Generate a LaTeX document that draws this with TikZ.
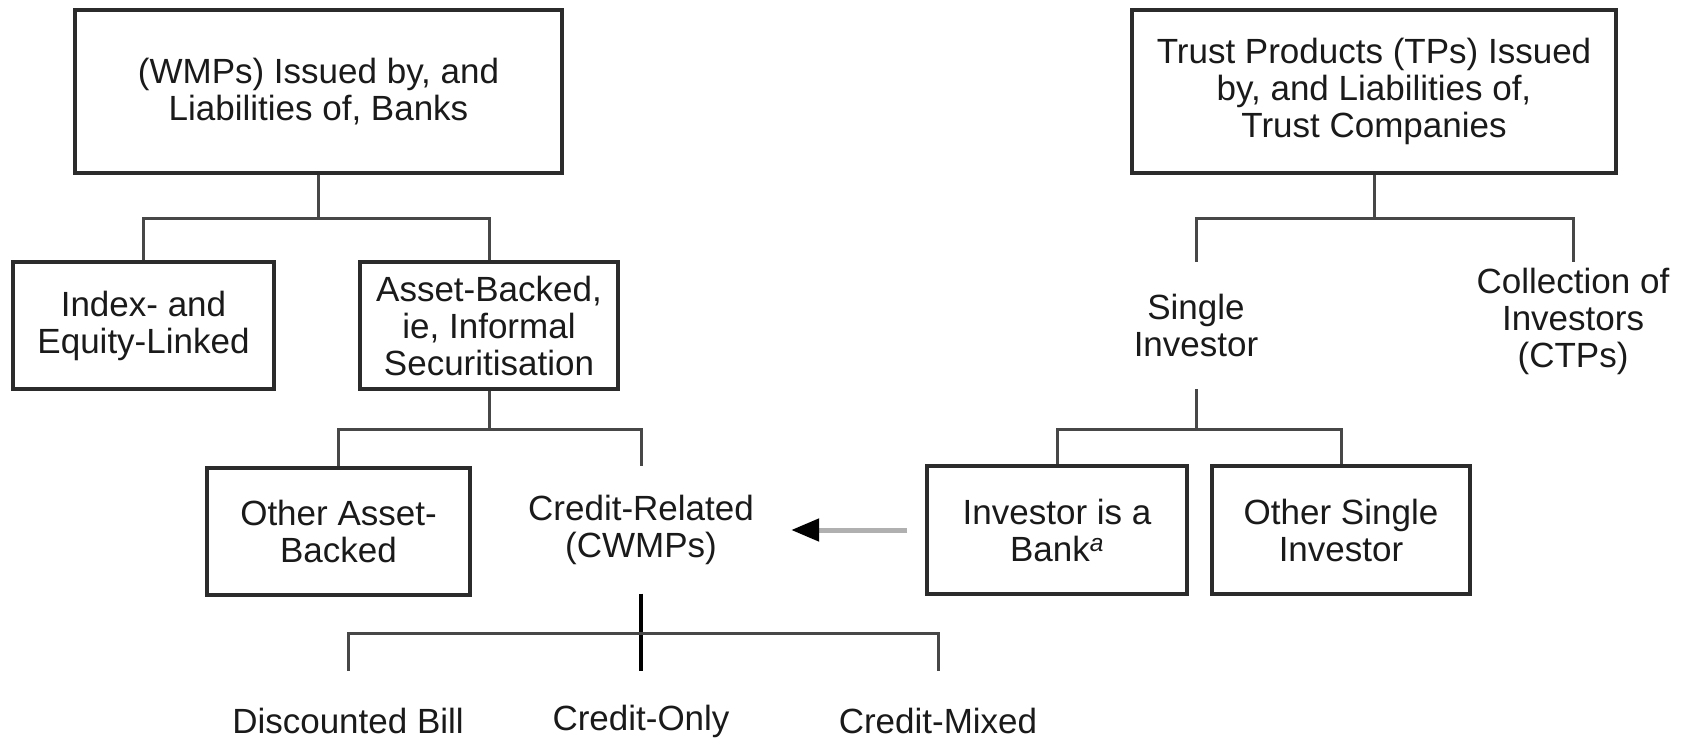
\documentclass[tikz,border=0pt]{standalone}
\usepackage{fontspec}
\setmainfont{Liberation Sans}
\usetikzlibrary{arrows.meta,calc}
\definecolor{boxc}{HTML}{2B2B2B}
\definecolor{linec}{HTML}{474747}
\definecolor{txt}{HTML}{1A1A1A}
\definecolor{arrc}{HTML}{B0B0B0}
\begin{document}
\begin{tikzpicture}[x=1pt,y=-1pt,
  every node/.style={font=\fontsize{35}{37}\selectfont, text=txt, align=center, inner sep=0pt},
  box/.style={draw=boxc, line width=3.5pt},
  plain/.style={},
  conn/.style={draw=linec, line width=3pt},
  darkline/.style={draw=black, line width=4pt},
  arr/.style={draw=arrc, line width=5pt, -{Triangle[length=28pt,width=22pt,color=black]}}]
\useasboundingbox[fill=white] (0,0) rectangle (1683,738);
% nodes
\node[box, minimum width=487pt, minimum height=163pt] (tl) at (318.5,91.5) {(WMPs) Issued by, and\\Liabilities of, Banks};
\node[box, minimum width=484pt, minimum height=163pt] (tr) at (1374,91.5) {Trust Products (TPs) Issued\\by, and Liabilities of,\\Trust Companies};
\node[box, minimum width=261pt, minimum height=127pt] (idx) at (143.5,325.5) {Index- and\\Equity-Linked};
\node[box, minimum width=258pt, minimum height=127pt] (ab) at (489,325.5) {Asset-Backed,\\ie, Informal\\Securitisation};
\node[box, minimum width=263pt, minimum height=127pt] (oab) at (338.5,531.5) {Other Asset-\\Backed};
\node[plain, minimum width=300pt, minimum height=127pt] (cr) at (641,530) {Credit-Related\\(CWMPs)};
\node[box, minimum width=260pt, minimum height=128pt] (ib) at (1057,530) {Investor is a\\Bank\textsuperscript{\itshape a}};
\node[box, minimum width=258pt, minimum height=128pt] (os) at (1341,530) {Other Single\\Investor};
\node[plain, minimum height=127pt] (si) at (1196,325.5) {Single\\Investor};
\node[plain, minimum height=118pt] (ci) at (1573,321) {Collection of\\Investors\\(CTPs)};
\node[plain, minimum height=100pt] (db) at (348,721) {Discounted Bill};
\node[plain, minimum height=100pt] (co) at (641,721) {Credit-Only};
\node[plain, minimum height=100pt] (cm) at (938,721) {Credit-Mixed};
% connectors
\draw[conn] (tl.south) -- ++(0,44) coordinate (j1);
\draw[conn] (idx.north) |- (j1) -| (ab.north);
\draw[conn] (ab.south) -- ++(0,39) coordinate (j2);
\draw[conn] (oab.north) |- (j2) -| (cr.north);
\draw[conn] (tr.south) -- ++(0,44) coordinate (j3);
\draw[conn] (si.north) |- (j3) -| (ci.north);
\draw[conn] (si.south) -- ++(0,40) coordinate (j4);
\draw[conn] (ib.north) |- (j4) -| (os.north);
\draw[darkline] (cr.south) -- (co.north);
\coordinate (j5) at ($(cr.south)+(0,40)$);
\draw[conn] (db.north) |- (j5) -| (cm.north);
\draw[arr] ([xshift=-18pt]ib.west) -- (cr.east);
\end{tikzpicture}
\end{document}
